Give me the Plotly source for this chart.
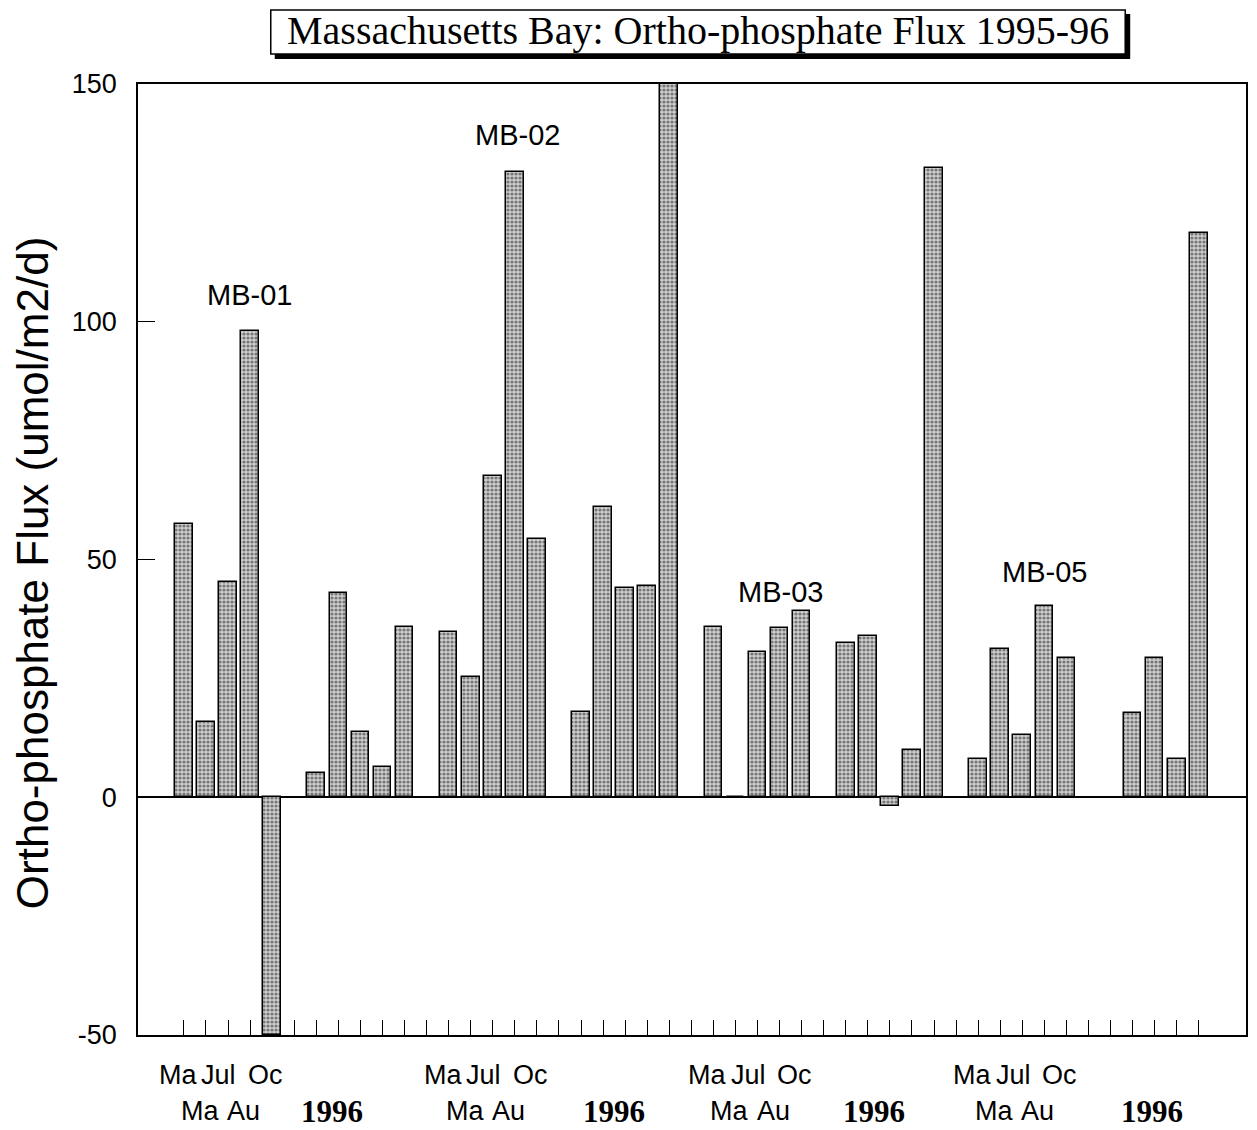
import plotly.graph_objects as go

# ---------------- data ----------------
stations = ["MB-01", "MB-02", "MB-03", "MB-05"]
months_1995 = ["Ma", "Ma", "Jul", "Au", "Oc"]
year_label = "1996"

mb01_1995 = [57.4, 15.8, 45.2, 98.1, -50.0]
mb01_1996 = [5.2, 42.9, 13.8, 6.4, 35.8]
mb02_1995 = [34.7, 25.3, 67.6, 131.4, 54.3]
mb02_1996 = [17.9, 61.0, 44.1, 44.4, 150.0]
mb03_1995 = [35.8, 0.0, 30.6, 35.5, 39.1]
mb03_1996 = [32.5, 33.9, -1.8, 10.0, 132.3]
mb05_1995 = [8.0, 31.2, 13.1, 40.2, 29.2]
mb05_1996 = [None, 17.7, 29.3, 8.1, 118.7]

series_1995 = [mb01_1995, mb02_1995, mb03_1995, mb05_1995]
series_1996 = [mb01_1996, mb02_1996, mb03_1996, mb05_1996]

y_ticks = [-50, 0, 50, 100, 150]

# ---------------- layout constants ----------------
# page body has an 8px default margin, so the figure is drawn 8px smaller
BODY = 8
W, H = 1257 - BODY, 1130 - BODY
PLOT_L, PLOT_R, PLOT_T, PLOT_B = 138, 1248, 84, 1035   # screen pixels
L = PLOT_L - BODY
T = PLOT_T - BODY
R = W + BODY - PLOT_R
B = H + BODY - PLOT_B
PW, PH = PLOT_R - PLOT_L, PLOT_B - PLOT_T

def px_x(px):
    return (px - PLOT_L) / PW

def px_y(py):
    return (PLOT_B - py) / PH

SLOTS_PER_STATION = 12          # 5 bars 1995, gap, 5 bars 1996, gap
YEAR_SLOT_OFFSET = 6

xs, ys = [], []
for s in range(len(stations)):
    base = s * SLOTS_PER_STATION
    for j, v in enumerate(series_1995[s]):
        xs.append(base + j); ys.append(v)
    for j, v in enumerate(series_1996[s]):
        xs.append(base + YEAR_SLOT_OFFSET + j); ys.append(v)

n_slots = SLOTS_PER_STATION * len(stations) - 1

fig = go.Figure()
fig.add_bar(
    x=xs, y=ys, width=0.8,
    marker=dict(
        color="#bdbdbd",
        line=dict(color="black", width=1.5),
        pattern=dict(shape=".", fgcolor="#1e1e1e", bgcolor="#cfcfcf", size=4, solidity=0.5),
    ),
    hoverinfo="x+y",
)

sans = "Liberation Sans, Arial, sans-serif"
serif = "Liberation Serif, Times New Roman, serif"

annotations = []

# month / year labels below axis
month_pos = [-0.27, 0.72, 1.58, 2.71, 3.69]
month_row = [1, 2, 1, 2, 1]
year_pos = [6.7, 7.5, 7.3, 7.9]
row_shift = {1: -40, 2: -76}
for s in range(len(stations)):
    base = s * SLOTS_PER_STATION
    for m, p, r in zip(months_1995, month_pos, month_row):
        annotations.append(dict(
            x=base + p, xref="x", y=0, yref="paper", yanchor="middle", xanchor="center",
            yshift=row_shift[r], text=m, showarrow=False,
            font=dict(family=sans, size=27, color="black")))
    annotations.append(dict(
        x=base + year_pos[s], xref="x", y=0, yref="paper", yanchor="middle", xanchor="center",
        yshift=-76, text="<b>%s</b>" % year_label, showarrow=False,
        font=dict(family=serif, size=31, color="black")))

# station labels
station_pos = [(2.99, 105.6), (15.1, 139.2), (27.05, 43.1), (39.0, 47.3)]
for name, (sx, sy) in zip(stations, station_pos):
    annotations.append(dict(
        x=sx, y=sy, xref="x", yref="y", text=name, showarrow=False,
        xanchor="center", yanchor="middle",
        font=dict(family=sans, size=29, color="black")))

# y-axis title
annotations.append(dict(
    x=px_x(32), y=px_y(573), xref="paper", yref="paper", textangle=-90,
    text="Ortho-phosphate Flux (umol/m2/d)", showarrow=False,
    xanchor="center", yanchor="middle",
    font=dict(family=sans, size=44, color="black")))

# chart title
annotations.append(dict(
    x=px_x(699), y=px_y(31), xref="paper", yref="paper",
    text="Massachusetts Bay: Ortho-phosphate Flux 1995-96", showarrow=False,
    xanchor="center", yanchor="middle",
    font=dict(family=serif, size=40, color="black")))

shapes = [
    dict(type="rect", xref="paper", yref="paper",
         x0=px_x(275), x1=px_x(1132), y0=px_y(59), y1=px_y(14),
         fillcolor="black", line=dict(width=0), layer="below"),
    dict(type="rect", xref="paper", yref="paper",
         x0=px_x(271), x1=px_x(1127), y0=px_y(54), y1=px_y(10),
         fillcolor="white", line=dict(color="black", width=1.5), layer="below"),
]

fig.update_layout(
    width=W, height=H,
    margin=dict(l=L, r=R, t=T, b=B, pad=0),
    paper_bgcolor="white", plot_bgcolor="white",
    showlegend=False, bargap=0,
    annotations=annotations, shapes=shapes,
    xaxis=dict(
        range=[-2.08, 48.14], tickvals=list(range(n_slots)),
        ticktext=[""] * n_slots, ticks="inside", ticklen=15, tickwidth=1.2,
        tickcolor="black", showline=True, linecolor="black", linewidth=1.5,
        mirror=True, showgrid=False, zeroline=False, layer="below traces",
    ),
    yaxis=dict(
        range=[-50, 150], tickvals=y_ticks, ticktext=[str(v) for v in y_ticks],
        ticks="inside", ticklen=17, tickwidth=1.2, tickcolor="black",
        showline=True, linecolor="black", linewidth=1.5, mirror=True,
        showgrid=False, zeroline=True, zerolinecolor="black", zerolinewidth=1.5,
        tickfont=dict(family=sans, size=27, color="black"),
        ticklabelstandoff=14,
    ),
)

fig.write_html("out.html")
